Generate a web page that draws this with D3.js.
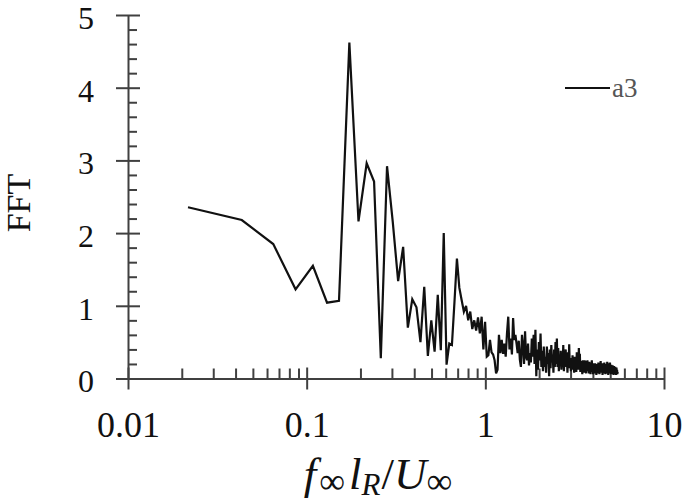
<!DOCTYPE html>
<html>
<head>
<meta charset="utf-8">
<script src="https://cdn.jsdelivr.net/npm/d3@7"></script>
<style>
  body { margin: 0; background: #fff; }
  text { font-family: "Liberation Serif", "Times New Roman", serif; }
</style>
</head>
<body>
<div id="chart"></div>
<script>
// FFT spectrum, series "a3"
const width = 685;
const height = 504;
const margin = {left: 128, right: 21, bottom: 125.5, top: 15};

// bin spacing of the spectrum (f l_R / U)
const df = 0.02167;

// FFT amplitude of each bin (bin 1, 2, 3, ...)
const fft = [
  2.355, 2.18, 1.85, 1.227, 1.55, 1.043, 1.07, 4.62, 2.16, 2.96,
  2.71, 0.28, 2.92, 2.15, 1.34, 1.81, 0.70, 1.09, 0.98, 0.50,
  1.26, 0.31, 0.80, 0.37, 1.15, 0.39, 2.00, 0.19, 0.48, 0.46,
  1.05, 1.65, 1.25, 1.08, 0.92, 1.00, 0.80, 0.92, 0.68, 0.80,
  0.66, 0.84, 0.62, 0.85, 0.40, 0.78,
  0.30, 0.32, 0.53, 0.36, 0.33, 0.25, 0.07, 0.12, 0.60, 0.35,
  0.53, 0.34, 0.48, 0.30, 0.62, 0.85, 0.40, 0.55, 0.33, 0.83,
  0.53, 0.60, 0.48, 0.35, 0.52, 0.26, 0.16, 0.60, 0.45, 0.20,
  0.65, 0.30, 0.25, 0.48, 0.18, 0.35, 0.22, 0.55, 0.30, 0.60,
  0.20, 0.67, 0.03, 0.40, 0.12, 0.50, 0.25, 0.62, 0.16, 0.38,
  0.10, 0.44, 0.16, 0.30, 0.08, 0.44, 0.20, 0.35, 0.03, 0.40,
  0.14, 0.46, 0.22, 0.33, 0.08, 0.40, 0.16, 0.50, 0.20, 0.55,
  0.16, 0.42, 0.10, 0.30, 0.18, 0.38, 0.12, 0.28, 0.16, 0.46,
  0.10, 0.35, 0.20, 0.40, 0.16, 0.30, 0.08, 0.36, 0.14, 0.47,
  0.16, 0.28, 0.10, 0.25, 0.16, 0.32, 0.12, 0.22, 0.08, 0.30,
  0.14, 0.25, 0.09, 0.36, 0.18, 0.30, 0.12, 0.42, 0.20, 0.34,
  0.09, 0.24, 0.12, 0.20, 0.06, 0.25, 0.14, 0.22, 0.08, 0.25,
  0.12, 0.20, 0.07, 0.24, 0.13, 0.25, 0.10, 0.19, 0.07, 0.23,
  0.11, 0.20, 0.06, 0.22, 0.12, 0.25, 0.09, 0.18, 0.06, 0.21,
  0.10, 0.18, 0.07, 0.21, 0.12, 0.17, 0.05, 0.20, 0.11, 0.16,
  0.07, 0.22, 0.10, 0.18, 0.06, 0.20, 0.12, 0.24, 0.08, 0.17,
  0.10, 0.21, 0.05, 0.18, 0.11, 0.19, 0.07, 0.22, 0.12, 0.16,
  0.06, 0.20, 0.10, 0.17, 0.07, 0.23, 0.11, 0.18, 0.05, 0.21,
  0.10, 0.19, 0.07, 0.22, 0.12, 0.16, 0.06, 0.19, 0.10, 0.15,
  0.06, 0.18, 0.09, 0.15, 0.05, 0.17, 0.10, 0.14, 0.06, 0.16,
  0.08, 0.13, 0.05, 0.15, 0.09, 0.12, 0.06, 0.09
];

const xMajor = [0.01, 0.1, 1, 10];
const xMinor = [2, 3, 4, 5, 6, 7, 8, 9].flatMap(m => [m * 0.01, m * 0.1, m]);
const yMajor = [0, 1, 2, 3, 4, 5];
const yMinor = d3.range(0, 5.001, 0.2).filter(v => Math.abs(v - Math.round(v)) > 0.01);

const axisColor = "#404040";

const data = fft.map((v, i) => ({f: (i + 1) * df, amp: v}));

const svg = d3.select("#chart")
  .append("svg")
  .attr("width", width)
  .attr("height", height);

const xScale = d3.scaleLog()
  .domain([0.01, 10])
  .range([margin.left, width - margin.right]);

const yScale = d3.scaleLinear()
  .domain([0, 5])
  .range([height - margin.bottom, margin.top]);

const y0 = height - margin.bottom;

// x axis: major ticks cross the axis line, minor ticks point up
const xAxis = svg.append("g")
  .attr("transform", `translate(0,${y0})`)
  .call(d3.axisBottom(xScale).tickValues(xMajor).tickSize(11).tickSizeOuter(0)
    .tickFormat(d => d3.format("~g")(d)));
xAxis.selectAll(".tick line").attr("y1", -11).attr("y2", 11);
xAxis.selectAll(".tick text")
  .attr("y", 58).attr("dy", null)
  .attr("font-size", 36).attr("fill", "#111");

const xAxisMinor = svg.append("g")
  .attr("transform", `translate(0,${y0})`)
  .call(d3.axisBottom(xScale).tickValues(xMinor).tickSize(-10).tickFormat(""));
xAxisMinor.select(".domain").remove();

// y axis
const yAxis = svg.append("g")
  .attr("transform", `translate(${margin.left},0)`)
  .call(d3.axisLeft(yScale).tickValues(yMajor).tickSize(12).tickSizeOuter(0)
    .tickFormat(d3.format("d")));
yAxis.selectAll(".tick line").attr("x1", -12).attr("x2", 12);
yAxis.selectAll(".tick text")
  .attr("x", -34).attr("dy", "0.42em")
  .attr("font-size", 32).attr("fill", "#111");

const yAxisMinor = svg.append("g")
  .attr("transform", `translate(${margin.left},0)`)
  .call(d3.axisLeft(yScale).tickValues(yMinor).tickSize(-9).tickFormat(""));
yAxisMinor.select(".domain").remove();

svg.selectAll(".domain, .tick line")
  .attr("stroke", axisColor)
  .attr("stroke-width", 2);

// spectrum line
const line = d3.line()
  .x(d => xScale(d.f))
  .y(d => yScale(d.amp));

svg.append("path")
  .datum(data)
  .attr("fill", "none")
  .attr("stroke", "#111")
  .attr("stroke-width", 2.2)
  .attr("d", line);

// legend
svg.append("line")
  .attr("x1", 565).attr("x2", 610)
  .attr("y1", 88).attr("y2", 88)
  .attr("stroke", "#111")
  .attr("stroke-width", 2.2);
svg.append("text")
  .attr("x", 612).attr("y", 97)
  .attr("font-size", 27)
  .attr("fill", "#555")
  .text("a3");

// y title
svg.append("text")
  .attr("transform", "translate(30,203) rotate(-90)")
  .attr("text-anchor", "middle")
  .attr("font-size", 34)
  .attr("fill", "#111")
  .text("FFT");

// x title: f∞ lR / U∞
const xt = svg.append("text")
  .attr("x", 378).attr("y", 489)
  .attr("text-anchor", "middle")
  .attr("font-size", 45)
  .attr("fill", "#111");
xt.append("tspan").attr("font-style", "italic").text("f");
xt.append("tspan").attr("font-size", 36).attr("dy", 4).attr("dx", 3).text("∞");
xt.append("tspan").attr("font-style", "italic").attr("dy", -4).attr("dx", 4).text("l");
xt.append("tspan").attr("font-style", "italic").attr("font-size", 31).attr("dy", 6).text("R");
xt.append("tspan").attr("dy", -6).attr("dx", 1).text("/");
xt.append("tspan").attr("font-style", "italic").text("U");
xt.append("tspan").attr("font-size", 36).attr("dy", 4).text("∞");
</script>
</body>
</html>
